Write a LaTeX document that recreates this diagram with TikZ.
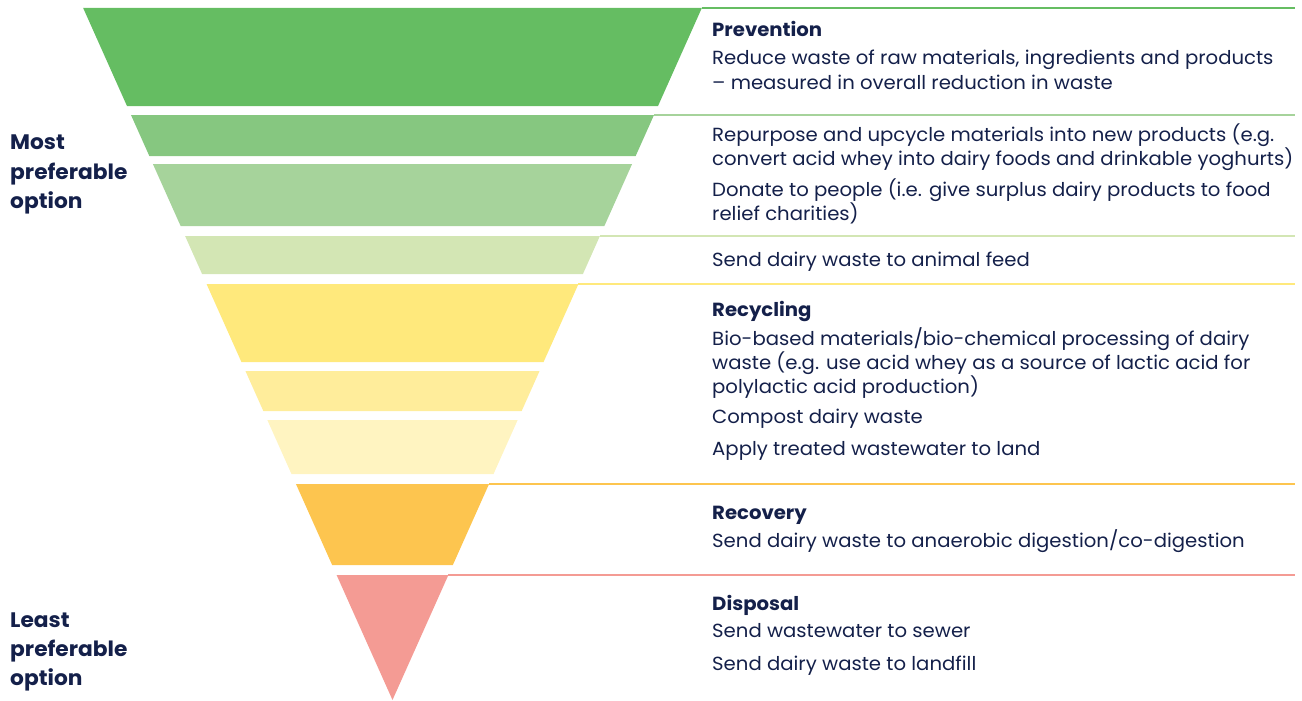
\documentclass[tikz,border=0pt]{standalone}
\usepackage{fontspec}
\setmainfont[FakeStretch=1.035]{Poppins}
\definecolor{navy}{HTML}{14204A}
\definecolor{cA}{HTML}{65BD62}
\definecolor{cB}{HTML}{86C780}
\definecolor{cC}{HTML}{A6D39B}
\definecolor{cD}{HTML}{D3E6B4}
\definecolor{cE}{HTML}{FFE97C}
\definecolor{cF}{HTML}{FFED9B}
\definecolor{cG}{HTML}{FFF4C1}
\definecolor{cH}{HTML}{FDC54F}
\definecolor{cI}{HTML}{F49B94}
\newcommand{\funnelband}[4]{% name, ytop, ybot, colour
  \pgfmathsetmacro{\fLT}{392.5-0.447*(700-#2)}
  \pgfmathsetmacro{\fRT}{392.5+0.447*(700-#2)}
  \pgfmathsetmacro{\fLB}{392.5-0.447*(700-#3)}
  \pgfmathsetmacro{\fRB}{392.5+0.447*(700-#3)}
  \fill[#4] (\fLT,#2) -- (\fRT,#2) -- (\fRB,#3) -- (\fLB,#3) -- cycle;
  \coordinate (#1) at (\fRT,#2);
}
\tikzset{
  txt/.style={anchor=base west, inner sep=0pt, text=navy, font=\fontsize{19}{23.5}\selectfont},
  side/.style={anchor=base west, inner sep=0pt, text=navy, font=\fontsize{21}{29.5}\selectfont\bfseries},
  rule/.style={line width=1.4pt},
}
\begin{document}
\begin{tikzpicture}[x=1pt,y=-1pt]
\useasboundingbox (0,0) rectangle (1302,701);
\funnelband{bA}{8}{106}{cA}
\funnelband{bB}{115}{156}{cB}
\funnelband{bC}{164}{226}{cC}
\funnelband{bD}{236}{274}{cD}
\funnelband{bE}{284}{362}{cE}
\funnelband{bF}{371}{411}{cF}
\funnelband{bG}{420}{474}{cG}
\funnelband{bH}{484}{565}{cH}
\fill[cI] (336.6,575) -- (448.4,575) -- (392.5,700) -- cycle;
\coordinate (bI) at (448.4,575);
% rules
\coordinate (eA) at (1295,8);
\coordinate (eB) at (1295,115);
\coordinate (eD) at (1295,236);
\coordinate (eE) at (1295,284);
\coordinate (eH) at (1295,484);
\coordinate (eI) at (1295,575);
\draw[rule,cA] (bA) -- (eA);
\draw[rule,cC] (bB) -- (eB);
\draw[rule,cD] (bD) -- (eD);
\draw[rule,cE] (bE) -- (eE);
\draw[rule,cH] (bH) -- (eH);
\draw[rule,cI] (bI) -- (eI);
% texts
\node[txt] (t1) at (712,37) {\textbf{Prevention}};
\node[txt] (t2) at (712,65) {Reduce waste of raw materials, ingredients and products};
\node[txt] (t3) at (712,89) {– measured in overall reduction in waste};
\node[txt] (t4) at (712,141.5) {Repurpose and upcycle materials into new products (e.g.};
\node[txt] (t5) at (712,165) {convert acid whey into dairy foods and drinkable yoghurts)};
\node[txt] (t6) at (712,196.5) {Donate to people (i.e. give surplus dairy products to food};
\node[txt] (t7) at (712,220) {relief charities)};
\node[txt] (t8) at (712,266) {Send dairy waste to animal feed};
\node[txt] (t9) at (712,316.5) {\textbf{Recycling}};
\node[txt] (t10) at (712,345) {Bio-based materials/bio-chemical processing of dairy};
\node[txt] (t11) at (712,369) {waste (e.g. use acid whey as a source of lactic acid for};
\node[txt] (t12) at (712,393) {polylactic acid production)};
\node[txt] (t13) at (712,423.5) {Compost dairy waste};
\node[txt] (t14) at (712,455.5) {Apply treated wastewater to land};
\node[txt] (t15) at (712,519) {\textbf{Recovery}};
\node[txt] (t16) at (712,547) {Send dairy waste to anaerobic digestion/co-digestion};
\node[txt] (t17) at (712,610) {\textbf{Disposal}};
\node[txt] (t18) at (712,637.5) {Send wastewater to sewer};
\node[txt] (t19) at (712,670) {Send dairy waste to landfill};
\node[side] (m1) at (10,149) {Most};
\node[side] (m2) at (10,179) {preferable};
\node[side] (m3) at (10,208) {option};
\node[side] (l1) at (10,627) {Least};
\node[side] (l2) at (10,656) {preferable};
\node[side] (l3) at (10,685) {option};
\end{tikzpicture}
\end{document}
